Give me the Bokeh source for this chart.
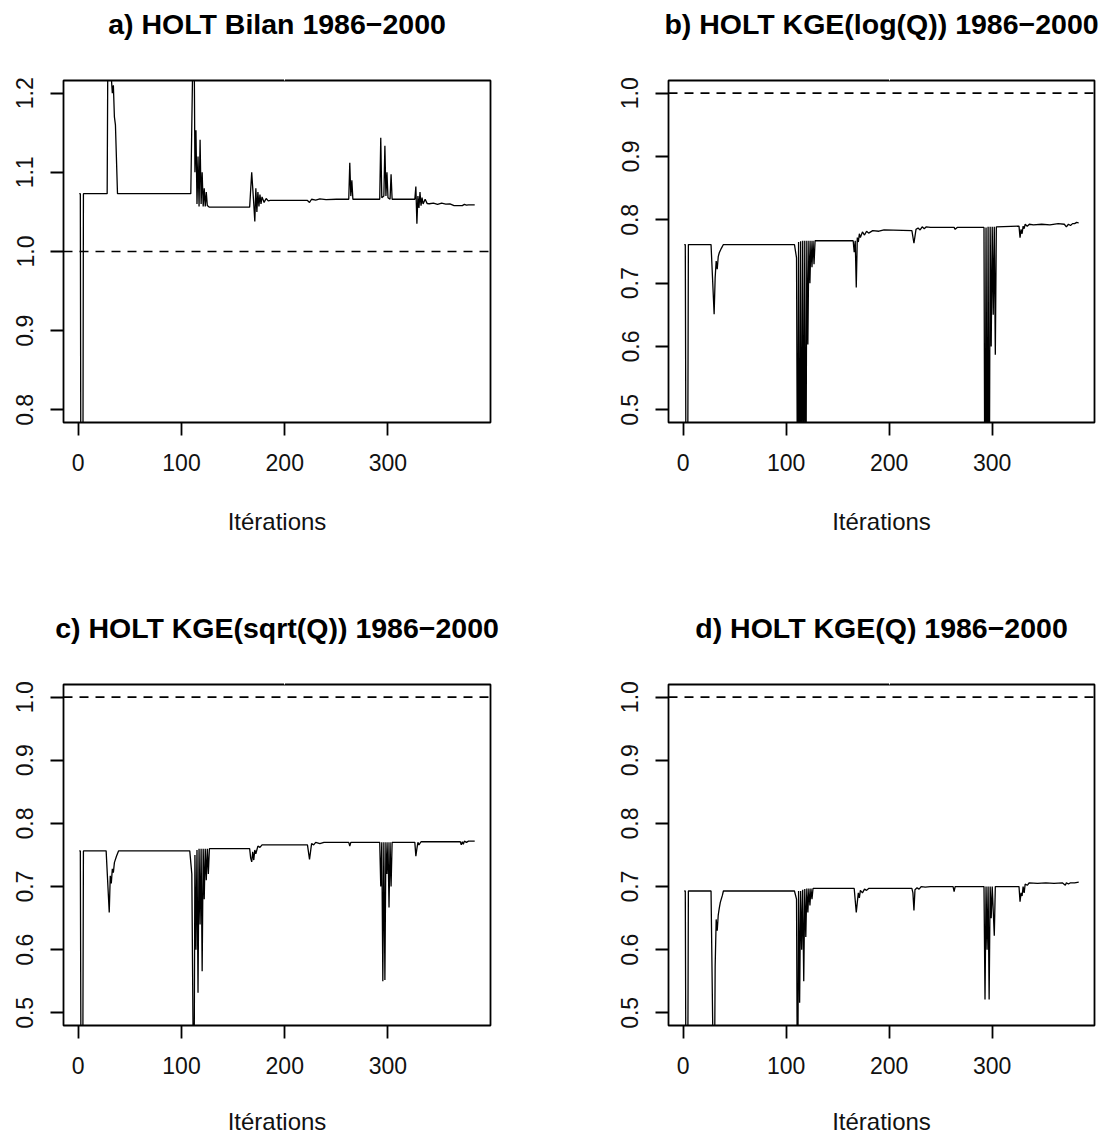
from bokeh.plotting import figure
from bokeh.models import Range1d, FixedTicker, PrintfTickFormatter, Span, LinearAxis
from bokeh.layouts import column, row
from bokeh.embed import file_html
from bokeh.resources import INLINE

FONT = "Liberation Sans"

titles = ["a) HOLT Bilan 1986\u22122000",
          "b) HOLT KGE(log(Q)) 1986\u22122000",
          "c) HOLT KGE(sqrt(Q)) 1986\u22122000",
          "d) HOLT KGE(Q) 1986\u22122000"]
x_label = "It\u00e9rations"
x_ticks = [0, 100, 200, 300]
y_ticks_a = [0.8, 0.9, 1.0, 1.1, 1.2]
y_ticks_kge = [0.5, 0.6, 0.7, 0.8, 0.9, 1.0]
reference_level = 1.0

# panel a : iteration / value at change points
a_x = [1, 2, 3, 4, 5, 28, 29, 30, 31, 32, 33, 34, 35, 36, 38, 108, 109, 111, 112, 113,
       114, 115, 116, 117, 118, 119, 120, 121, 122, 123, 124, 125, 127, 166, 168, 170,
       171, 172, 173, 174, 175, 176, 177, 178, 180, 182, 184, 186, 222, 224, 226, 230,
       234, 240, 250, 262, 263, 264, 265, 266, 292, 293, 294, 296, 297, 298, 299, 300,
       302, 303, 304, 326, 327, 328, 329, 330, 331, 332, 333, 334, 336, 338, 340, 344,
       348, 352, 356, 360, 364, 372, 374, 376, 378, 384]
a_y = [1.073, 1.073, 0.35, 0.35, 1.073, 1.073, 1.35, 1.26, 1.30, 1.22, 1.20, 1.21, 1.17,
       1.16, 1.073, 1.073, 1.073, 1.25, 1.32, 1.10, 1.153, 1.06, 1.12, 1.057, 1.141, 1.06,
       1.10, 1.057, 1.08, 1.057, 1.075, 1.058, 1.056, 1.056, 1.100, 1.06, 1.038, 1.08,
       1.05, 1.075, 1.057, 1.072, 1.06, 1.069, 1.062, 1.067, 1.064, 1.0645, 1.0645, 1.062,
       1.066, 1.065, 1.0665, 1.0655, 1.066, 1.066, 1.112, 1.07, 1.09, 1.066, 1.066,
       1.1437, 1.068, 1.07, 1.1335, 1.07, 1.100, 1.068, 1.066, 1.0975, 1.066, 1.066,
       1.082, 1.035, 1.07, 1.055, 1.075, 1.058, 1.068, 1.06, 1.066, 1.0605, 1.0603, 1.061,
       1.0595, 1.061, 1.0598, 1.0602, 1.058, 1.058, 1.0595, 1.0585, 1.059, 1.059]

# panel b
b_x = [1, 2, 3, 4, 5, 27, 30, 31, 32, 33, 34, 35, 37, 39, 108, 110, 111, 112, 113, 114,
       115, 116, 117, 118, 119, 120, 121, 122, 123, 124, 125, 126, 127, 128, 165, 166,
       167, 168, 169, 170, 171, 172, 174, 176, 178, 180, 184, 190, 195, 222, 224, 226,
       228, 230, 232, 234, 236, 240, 263, 264, 266, 292, 293, 294, 295, 296, 297, 298,
       299, 300, 301, 302, 303, 304, 326, 327, 328, 329, 330, 331, 332, 334, 336, 340,
       348, 356, 364, 370, 372, 374, 376, 378, 380, 382, 384]
b_y = [0.761, 0.761, 0.2, 0.2, 0.761, 0.761, 0.651, 0.709, 0.735, 0.722, 0.742, 0.748,
       0.755, 0.761, 0.761, 0.74, 0.30, 0.765, 0.25, 0.766, 0.30, 0.767, 0.35, 0.767,
       0.30, 0.767, 0.603, 0.767, 0.70, 0.767, 0.725, 0.767, 0.73, 0.767, 0.767, 0.749,
       0.767, 0.693, 0.772, 0.765, 0.778, 0.772, 0.781, 0.776, 0.782, 0.779, 0.783, 0.782,
       0.784, 0.783, 0.763, 0.785, 0.787, 0.784, 0.789, 0.786, 0.789, 0.788, 0.788, 0.785,
       0.788, 0.788, 0.25, 0.788, 0.30, 0.789, 0.25, 0.789, 0.60, 0.789, 0.65, 0.789,
       0.587, 0.789, 0.790, 0.772, 0.785, 0.778, 0.79, 0.786, 0.793, 0.790, 0.793, 0.792,
       0.793, 0.792, 0.794, 0.793, 0.789, 0.793, 0.791, 0.794, 0.794, 0.796, 0.795]

# panel c
c_x = [1, 2, 3, 4, 5, 27, 30, 31, 32, 33, 34, 35, 37, 39, 108, 110, 112, 113, 114, 115,
       116, 117, 118, 119, 120, 121, 122, 123, 124, 125, 126, 127, 166, 167, 168, 169,
       170, 171, 172, 174, 176, 178, 222, 224, 226, 228, 230, 234, 238, 262, 263, 264,
       292, 293, 294, 295, 296, 297, 298, 299, 300, 301, 302, 303, 304, 326, 327, 328,
       329, 330, 332, 340, 370, 371, 372, 373, 374, 376, 378, 384]
c_y = [0.7565, 0.7565, 0.2, 0.2, 0.7565, 0.7565, 0.659, 0.717, 0.705, 0.728, 0.722,
       0.738, 0.748, 0.7565, 0.7565, 0.72, 0.30, 0.750, 0.60, 0.758, 0.532, 0.760, 0.64,
       0.760, 0.566, 0.760, 0.68, 0.760, 0.71, 0.760, 0.72, 0.760, 0.760, 0.745, 0.739,
       0.755, 0.742, 0.758, 0.752, 0.764, 0.762, 0.766, 0.766, 0.743, 0.768, 0.766, 0.770,
       0.768, 0.770, 0.770, 0.764, 0.770, 0.770, 0.70, 0.770, 0.550, 0.770, 0.552, 0.770,
       0.72, 0.770, 0.667, 0.770, 0.70, 0.770, 0.770, 0.748, 0.760, 0.770, 0.766, 0.771,
       0.771, 0.771, 0.766, 0.771, 0.767, 0.772, 0.770, 0.772, 0.772]

# panel d
d_x = [1, 2, 3, 4, 5, 27, 30, 31, 32, 33, 34, 35, 36, 38, 39, 108, 110, 111, 112, 113,
       114, 115, 116, 117, 118, 119, 120, 121, 122, 123, 124, 125, 126, 166, 168, 169,
       170, 171, 172, 174, 176, 178, 180, 222, 223, 224, 225, 227, 229, 231, 235, 240,
       262, 263, 264, 292, 293, 294, 295, 296, 297, 298, 299, 300, 302, 303, 326, 327,
       328, 329, 330, 331, 332, 334, 336, 344, 352, 360, 368, 371, 372, 374, 376, 380, 384]
d_y = [0.693, 0.693, 0.2, 0.2, 0.693, 0.693, 0.30, 0.574, 0.648, 0.630, 0.655, 0.666,
       0.675, 0.686, 0.693, 0.693, 0.68, 0.30, 0.693, 0.516, 0.693, 0.60, 0.695, 0.55,
       0.696, 0.62, 0.697, 0.659, 0.697, 0.67, 0.697, 0.68, 0.697, 0.697, 0.659, 0.675,
       0.690, 0.682, 0.694, 0.690, 0.696, 0.694, 0.697, 0.697, 0.690, 0.662, 0.695, 0.698,
       0.696, 0.700, 0.699, 0.700, 0.700, 0.692, 0.700, 0.700, 0.521, 0.700, 0.60, 0.700,
       0.521, 0.700, 0.65, 0.700, 0.622, 0.700, 0.700, 0.676, 0.690, 0.685, 0.700, 0.690,
       0.704, 0.702, 0.706, 0.705, 0.706, 0.705, 0.706, 0.702, 0.706, 0.704, 0.706, 0.706,
       0.707]

LEFT, TOP, FRAME_H = 63, 80, 342


def make_panel(title, xs, ys, yrange, yticks, width, height, right_border,
               bottom_border, label_standoff):
    p = figure(width=width, height=height, output_backend="svg",
               toolbar_location=None, tools="",
               x_range=Range1d(-14.3, 399.3), y_range=Range1d(*yrange),
               min_border_left=LEFT, min_border_right=right_border,
               min_border_top=TOP, min_border_bottom=bottom_border)
    p.background_fill_color = "white"
    p.border_fill_color = "white"
    p.outline_line_color = "black"
    p.outline_line_width = 1.8
    p.grid.visible = False

    xb = p.below[0]
    yl = p.left[0]

    # invisible spacer between the frame and the title (white tick, no label text)
    spacer = LinearAxis(ticker=FixedTicker(ticks=[200]), axis_line_color=None,
                        major_tick_in=0, major_tick_out=36,
                        major_tick_line_color="white",
                        major_label_standoff=0, major_label_text_font_size="0px",
                        major_label_overrides={200: ""},
                        minor_tick_line_color=None)
    p.add_layout(spacer, "above")

    p.title.text = title
    p.title.align = "center"
    p.title.standoff = 10
    p.title.text_font = FONT
    p.title.text_font_size = "28.5px"
    p.title.text_font_style = "bold"
    p.title.text_color = "black"

    p.line(xs, ys, line_color="black", line_width=1.3)
    p.add_layout(Span(location=reference_level, dimension="width",
                      line_color="black", line_width=1.6, line_dash="9 7"))

    for ax in (xb, yl):
        ax.axis_line_color = None
        ax.major_tick_in = 0
        ax.major_tick_out = 13
        ax.major_tick_line_color = "black"
        ax.major_tick_line_width = 1.8
        ax.minor_tick_line_color = None
        ax.major_label_text_font = FONT
        ax.major_label_text_font_size = "23px"
        ax.major_label_text_color = "#111111"

    xb.ticker = FixedTicker(ticks=x_ticks)
    xb.major_label_standoff = 18
    xb.axis_label = x_label
    xb.axis_label_text_font = FONT
    xb.axis_label_text_font_size = "24px"
    xb.axis_label_text_font_style = "normal"
    xb.axis_label_text_color = "#111111"
    xb.axis_label_standoff = label_standoff

    yl.ticker = FixedTicker(ticks=yticks)
    yl.formatter = PrintfTickFormatter(format="%.1f")
    yl.major_label_orientation = "vertical"
    yl.major_label_standoff = 17
    return p


top_h, bot_h = TOP + FRAME_H + 182, TOP + FRAME_H + 111
pa = make_panel(titles[0], a_x, a_y, (0.784, 1.216), y_ticks_a, 605, top_h, 115, 182, 34)
pb = make_panel(titles[1], b_x, b_y, (0.48, 1.02), y_ticks_kge, 498, top_h, 9, 182, 34)
pc = make_panel(titles[2], c_x, c_y, (0.48, 1.02), y_ticks_kge, 605, bot_h, 115, 111, 31)
pd = make_panel(titles[3], d_x, d_y, (0.48, 1.02), y_ticks_kge, 498, bot_h, 9, 111, 31)

layout = column(row(pa, pb), row(pc, pd))
open("out.html", "w").write(file_html(layout, INLINE))
